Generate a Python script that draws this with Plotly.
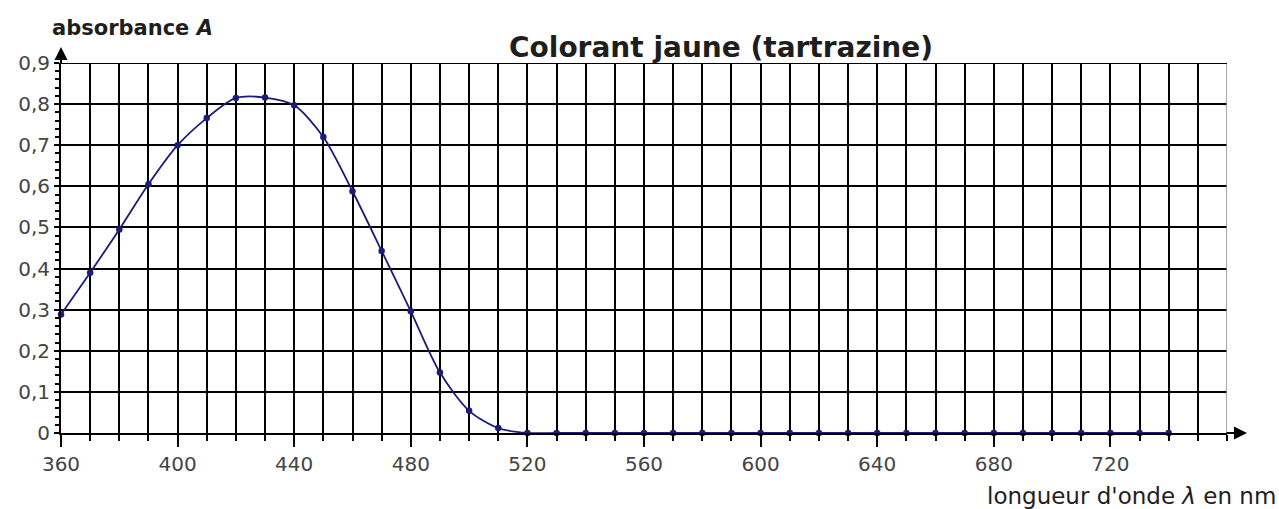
import plotly.graph_objects as go

# Data
wavelength_nm = [360, 370, 380, 390, 400, 410, 420, 430, 440, 450,
                 460, 470, 480, 490, 500, 510, 520, 530, 540, 550,
                 560, 570, 580, 590, 600, 610, 620, 630, 640, 650,
                 660, 670, 680, 690, 700, 710, 720, 730, 740]
absorbance = [0.288, 0.39, 0.495, 0.605, 0.70, 0.766, 0.815, 0.816, 0.797, 0.72,
              0.588, 0.443, 0.296, 0.147, 0.054, 0.012, 0.0, 0.0, 0.0, 0.0,
              0.0, 0.0, 0.0, 0.0, 0.0, 0.0, 0.0, 0.0, 0.0, 0.0,
              0.0, 0.0, 0.0, 0.0, 0.0, 0.0, 0.0, 0.0, 0.0]

x_tickvals = [360, 400, 440, 480, 520, 560, 600, 640, 680, 720]
y_tickvals = [0, 0.1, 0.2, 0.3, 0.4, 0.5, 0.6, 0.7, 0.8, 0.9]
y_ticktext = ["0", "0,1", "0,2", "0,3", "0,4", "0,5", "0,6", "0,7", "0,8", "0,9"]

title_text = "Colorant jaune (tartrazine)"
y_label = "absorbance <i>A</i>"
x_label = "longueur d'onde <i>λ</i> en nm"

FONT = "DejaVu Sans, Verdana, sans-serif"
NAVY = "#1c1c78"

fig = go.Figure()
fig.add_trace(go.Scatter(
    x=wavelength_nm, y=absorbance, mode="lines+markers",
    line=dict(color=NAVY, width=1.8, shape="spline", smoothing=0.8),
    marker=dict(color=NAVY, size=6.5, symbol="circle"),
    showlegend=False, cliponaxis=False,
))

fig.update_layout(
    width=1279, height=509,
    margin=dict(l=61, r=52, t=63, b=76, autoexpand=False),
    paper_bgcolor="white", plot_bgcolor="white",
    font=dict(family=FONT, color="#333333"),
    xaxis=dict(
        range=[360, 760], tickvals=x_tickvals, ticktext=[str(v) for v in x_tickvals],
        ticks="outside", ticklen=12, tickwidth=2, tickcolor="black",
        showgrid=True, gridcolor="black", gridwidth=2,
        showline=True, linecolor="black", linewidth=2,
        zeroline=False, automargin=False,
        tickfont=dict(size=20, color="#444444", family=FONT),
        minor=dict(dtick=10, tick0=360, ticks="outside", ticklen=6, tickwidth=2,
                   tickcolor="black", showgrid=True, gridcolor="black", gridwidth=2),
    ),
    yaxis=dict(
        range=[0, 0.9], tickvals=y_tickvals, ticktext=y_ticktext,
        ticks="outside", ticklen=5, tickwidth=2, tickcolor="black",
        showgrid=True, gridcolor="black", gridwidth=2,
        showline=True, linecolor="black", linewidth=2,
        zeroline=False, automargin=False,
        tickfont=dict(size=20, color="#444444", family=FONT),
        minor=dict(dtick=0.02, tick0=0, ticks="outside", ticklen=4, tickwidth=1.5,
                   tickcolor="black", showgrid=False),
    ),
    shapes=[
        dict(type="line", xref="x", yref="paper", x0=760, x1=760, y0=0, y1=1,
             line=dict(color="#8a8a8a", width=1.5)),
        dict(type="line", xref="paper", yref="y", x0=0, x1=1, y0=0.9, y1=0.9,
             line=dict(color="black", width=2)),
    ],
    annotations=[
        dict(text=title_text, xref="paper", yref="paper", x=0.566, y=1, yshift=16,
             yanchor="middle", xanchor="center", showarrow=False,
             font=dict(size=28, color="#1e1e1e", family=FONT, weight="bold")),
        dict(text=y_label, xref="paper", yref="paper", x=0, xshift=-11, y=1, yshift=35,
             xanchor="left", yanchor="middle", showarrow=False,
             font=dict(size=21, color="#1e1e1e", family=FONT, weight="bold")),
        dict(text=x_label, xref="paper", yref="paper", x=1, xshift=51, y=0, yshift=-63,
             xanchor="right", yanchor="middle", showarrow=False,
             font=dict(size=23, color="#1e1e1e", family=FONT)),
        # y axis arrow
        dict(text="", xref="paper", yref="paper", x=0, y=1, yshift=16,
             ax=0, ay=18, axref="pixel", ayref="pixel", showarrow=True,
             arrowhead=2, arrowsize=1.3, arrowwidth=2, arrowcolor="black"),
        # x axis arrow
        dict(text="", xref="paper", yref="paper", x=1, xshift=20, y=0,
             ax=-22, ay=0, axref="pixel", ayref="pixel", showarrow=True,
             arrowhead=2, arrowsize=1.3, arrowwidth=2, arrowcolor="black"),
    ],
)

fig.write_html("out.html", config={"displayModeBar": False},
               post_script="document.body.style.margin='0px';")
